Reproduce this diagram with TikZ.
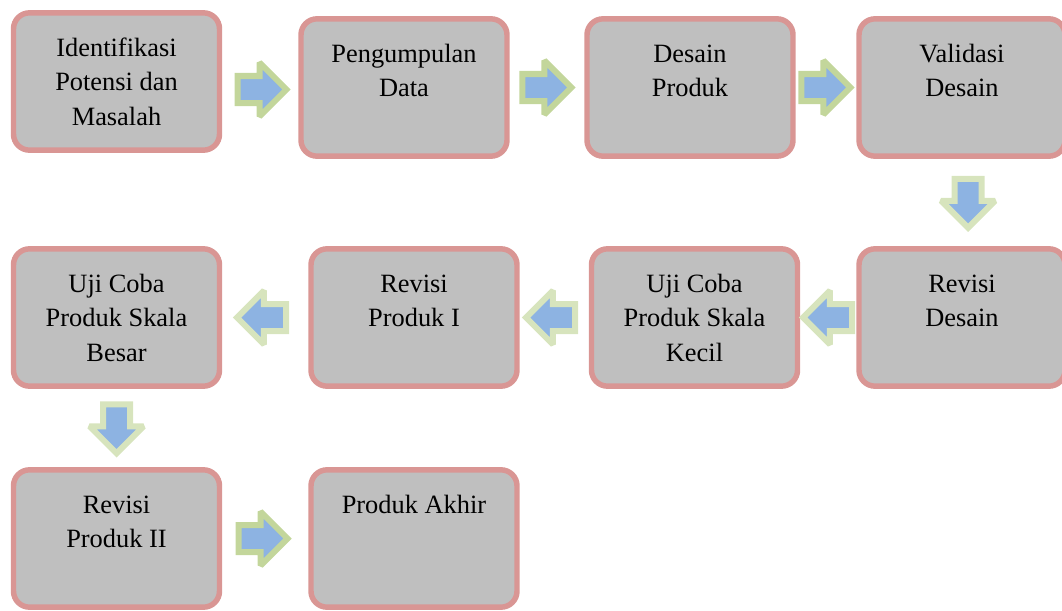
\documentclass[tikz,border=0pt]{standalone}
\usepackage{fontspec}
\setmainfont{Liberation Serif}
\usepackage{tikz}
\usetikzlibrary{shapes.arrows,calc}

\definecolor{stageborder}{HTML}{D99694}
\definecolor{stagefill}{HTML}{BFBFBF}
\definecolor{arrowblue}{HTML}{8DB3E2}
\definecolor{arrowgreen}{HTML}{C3D69B}
\definecolor{arrowpale}{HTML}{D7E4BD}

\tikzset{
  stage/.style={draw=stageborder, fill=stagefill, line width=4.1pt,
    rounded corners=12pt, text width=154.5pt, align=flush center, inner sep=0pt,
    text height=32.8pt, text depth=70.2pt,
    font=\fontsize{19.8pt}{25.7pt}\selectfont},
  blockarrow/.style={single arrow, draw=#1, fill=arrowblue, line width=4.5pt,
    miter limit=2, minimum height=36.75pt, minimum width=36pt,
    single arrow head extend=10.1pt, inner sep=7.875pt},
  rarrow/.style={blockarrow=arrowgreen, xshift=-5.25pt},
  larrow/.style={blockarrow=arrowpale, shape border rotate=180, xshift=2.25pt},
  darrow/.style={blockarrow=arrowpale, shape border rotate=270, yshift=4.5pt}
}

\begin{document}
\begin{tikzpicture}[x=0.75pt,y=-0.75pt]
\useasboundingbox (0,0) rectangle (1062,610);

% first row
\node[stage] (s1) at (116.5,81.5) {Identifikasi\\Potensi dan\\Masalah};
\node[stage] (s2) at (404,87.5) {Pengumpulan\\Data};
\node[stage] (s3) at (690,87.5) {Desain\\Produk};
\node[stage] (s4) at (962,87.5) {Validasi\\Desain};

% second row
\node[stage] (s5) at (962,317.5) {Revisi\\Desain};
\node[stage] (s6) at (694.5,317.5) {Uji Coba\\Produk Skala\\Kecil};
\node[stage] (s7) at (414,317.5) {Revisi\\Produk I};
\node[stage] (s8) at (116.5,317.5) {Uji Coba\\Produk Skala\\Besar};

% third row
\node[stage] (s9) at (116.5,538.5) {Revisi\\Produk II};
\node[stage] (s10) at (414,538.5) {Produk Akhir};

% block arrows
\node[rarrow] (a1) at ($(s1.east)!.5!(s2.west)+(2,5)$) {};
\node[rarrow] (a2) at ($(s2.east)!.5!(s3.west)$) {};
\node[rarrow] (a3) at ($(s3.east)!.5!(s4.west)$) {};
\node[darrow] (a4) at ($(s4.south)!.5!(s5.north)+(6,0)$) {};
\node[larrow] (a5) at ($(s5.west)!.5!(s6.east)+(3,0)$) {};
\node[larrow] (a6) at ($(s6.west)!.5!(s7.east)$) {};
\node[larrow] (a7) at ($(s7.west)!.5!(s8.east)$) {};
\node[darrow] (a8) at ($(s8.south)!.5!(s9.north)$) {};
\node[rarrow] (a9) at ($(s9.east)!.5!(s10.west)+(-2,0)$) {};
\end{tikzpicture}
\end{document}
